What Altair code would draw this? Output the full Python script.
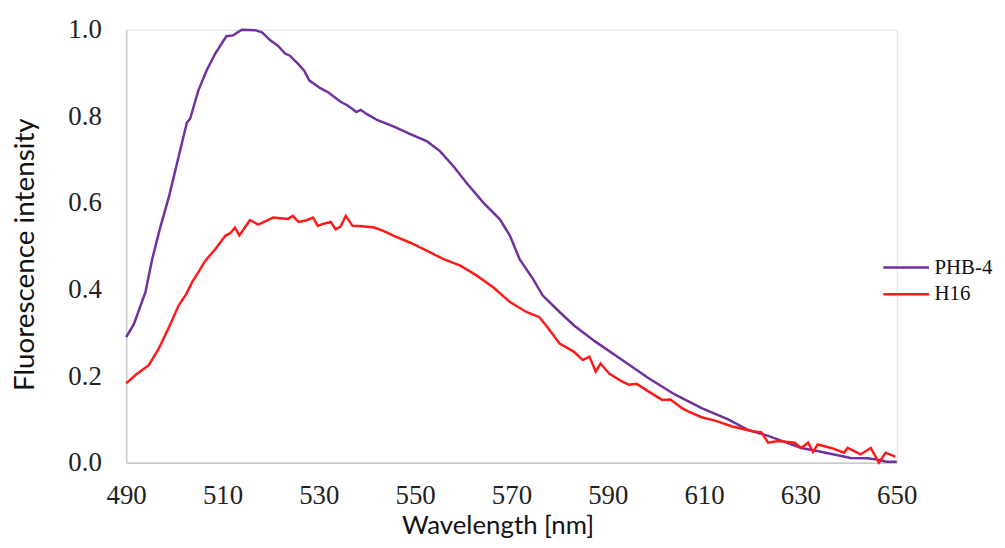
import altair as alt
import pandas as pd

# PHB-4 spectrum (wavelength nm, normalized intensity)
phb_wl = [490, 491.6, 494, 495.4, 497, 498.9, 500.9, 502.6, 503.3, 505, 506.7, 508.5,
          510.8, 512.2, 514, 516.8, 518.2, 520, 521.5, 523, 524, 525.8, 527, 528,
          530.3, 532, 534.6, 536, 537.8, 538.7, 540, 542.2, 545.6, 549, 552.5, 555.2,
          558, 560.7, 564.2, 567.6, 569.7, 571.7, 574.5, 576.5, 580, 583, 587.5, 593,
          598.5, 604, 609.5, 615, 619.1, 623.3, 626.7, 630.2, 633.5, 637, 640.4,
          643.9, 646, 647.9, 650]
phb_val = [0.29, 0.32, 0.394, 0.47, 0.54, 0.615, 0.707, 0.785, 0.795, 0.86, 0.906, 0.945,
           0.985, 0.987, 1.0, 0.999, 0.994, 0.975, 0.963, 0.945, 0.94, 0.92, 0.905, 0.883,
           0.865, 0.855, 0.833, 0.825, 0.81, 0.815, 0.805, 0.791, 0.776, 0.759, 0.742, 0.719,
           0.684, 0.646, 0.60, 0.562, 0.524, 0.47, 0.424, 0.386, 0.348, 0.317, 0.279, 0.237,
           0.195, 0.157, 0.126, 0.10, 0.076, 0.062, 0.048, 0.034, 0.027, 0.019, 0.011,
           0.01, 0.007, 0.002, 0.002]

# H16 spectrum
h16_wl = [490, 492, 494.7, 496.8, 498.9, 500.9, 502.5, 503.7, 505, 506.4, 508.5, 510.6,
          511.6, 512.6, 513.5, 515.7, 517.4, 519, 520.5, 523.6, 524.6, 525.8, 527.5,
          528.8, 529.8, 531, 532.5, 533.5, 534.5, 535.6, 537, 539, 541.5, 543.5, 545.6,
          549, 552.5, 555.9, 559.4, 562.8, 566.2, 569.7, 573.1, 575.8, 577.2, 580, 583,
          584.8, 586.2, 587.5, 588.5, 590.3, 593, 594.4, 596, 598.5, 601.3, 603, 605.4,
          606.8, 609.5, 612.3, 615.7, 619.8, 621.9, 623.3, 625.4, 628.8, 630.2, 631.6,
          632.6, 633.6, 636.4, 639.1, 639.8, 642.5, 644.6, 646.3, 647.7, 649.7]
h16_val = [0.183, 0.203, 0.225, 0.264, 0.313, 0.363, 0.39, 0.417, 0.44, 0.466, 0.493, 0.524,
           0.53, 0.543, 0.525, 0.56, 0.55, 0.558, 0.566, 0.563, 0.57, 0.556, 0.56,
           0.566, 0.547, 0.552, 0.556, 0.539, 0.545, 0.570, 0.547, 0.546, 0.543, 0.535, 0.524,
           0.508, 0.489, 0.47, 0.455, 0.432, 0.405, 0.371, 0.348, 0.336, 0.317, 0.275, 0.256,
           0.237, 0.245, 0.21, 0.229, 0.206, 0.187, 0.18, 0.182, 0.164, 0.145, 0.146, 0.126,
           0.118, 0.105, 0.097, 0.084, 0.073, 0.07, 0.046, 0.05, 0.046, 0.034, 0.046,
           0.025, 0.042, 0.034, 0.023, 0.034, 0.019, 0.034, 0.0, 0.023, 0.014]

series_names = ["PHB-4", "H16"]
series_colors = ["#7030A0", "#FF1A1A"]
x_ticks = [490, 510, 530, 550, 570, 590, 610, 630, 650]
y_ticks = [0.0, 0.2, 0.4, 0.6, 0.8, 1.0]

df = pd.concat([
    pd.DataFrame({"wl": phb_wl, "val": phb_val, "series": "PHB-4", "ord": 0}),
    pd.DataFrame({"wl": h16_wl, "val": h16_val, "series": "H16", "ord": 1}),
], ignore_index=True)

serif = "Liberation Serif"
sans = "Lato"

chart = alt.Chart(df).mark_line(strokeWidth=2.5).encode(
    x=alt.X("wl:Q",
            scale=alt.Scale(domain=[490, 650], nice=False, zero=False),
            axis=alt.Axis(values=x_ticks, title="Wavelength [nm]", grid=False,
                          ticks=False, labelPadding=20, labelFlush=False,
                          labelFont=serif, labelFontSize=27,
                          labelColor="#222222", domainColor="#c8c8c8", domainWidth=1.5,
                          titleFont=sans, titleFontSize=26, titleFontWeight="normal",
                          titleColor="#111111", titleX=374, titleY=71,
                          titleBaseline="alphabetic", titleAlign="center")),
    y=alt.Y("val:Q",
            scale=alt.Scale(domain=[0, 1], nice=False),
            axis=alt.Axis(values=y_ticks, format=".1f", title="Fluorescence intensity",
                          grid=False, ticks=False, labelPadding=25, labelFont=serif,
                          labelFontSize=27, labelColor="#222222", domainColor="#c8c8c8",
                          domainWidth=1.5, titleFont=sans, titleFontSize=28,
                          titleFontWeight="normal", titleColor="#111111",
                          titleAngle=270, titleX=-93, titleY=226,
                          titleBaseline="alphabetic", titleAlign="center")),
    color=alt.Color("series:N",
                    scale=alt.Scale(domain=series_names, range=series_colors),
                    legend=alt.Legend(title=None, orient="none", legendX=774, legendY=228,
                                      symbolType="M-2.3,0H2.3", symbolSize=400,
                                      symbolStrokeWidth=2.5, labelFont=serif,
                                      labelFontSize=21, labelColor="#111111",
                                      labelOffset=17, rowPadding=5)),
    order=alt.Order("ord:Q"),
    detail="series:N",
).properties(
    width=776, height=436,
    autosize=alt.AutoSizeParams(type="none"),
    padding={"left": 119, "top": 20, "right": 101, "bottom": 76},
).configure_view(stroke=None).configure(background="white")

chart.save("out.html", embed_options={"renderer": "svg", "actions": False})
